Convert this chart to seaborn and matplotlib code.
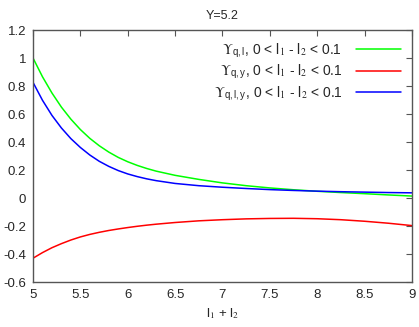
import numpy as np
import pandas as pd
import matplotlib
matplotlib.use("Agg")
import matplotlib.pyplot as plt
import seaborn as sns

x_vals = [5.0, 5.1, 5.2, 5.3, 5.4, 5.5, 5.6, 5.7, 5.8, 5.9, 6.0, 6.1, 6.2, 6.3,
          6.5, 6.75, 7.0, 7.25, 7.5, 7.75, 8.0, 8.25, 8.5, 8.75, 9.0]
ups_ql = [1.000, 0.866, 0.750, 0.649, 0.563, 0.489, 0.426, 0.373, 0.328, 0.290, 0.259,
          0.233, 0.211, 0.192, 0.162, 0.133, 0.108, 0.088, 0.072, 0.059, 0.048,
          0.039, 0.031, 0.022, 0.014]
ups_qy = [-0.430, -0.390, -0.355, -0.326, -0.300, -0.278, -0.260, -0.245, -0.232, -0.221,
          -0.211, -0.202, -0.194, -0.187, -0.175, -0.163, -0.155, -0.149, -0.146, -0.145,
          -0.148, -0.155, -0.166, -0.180, -0.197]
ups_qly = [0.826, 0.698, 0.590, 0.500, 0.424, 0.361, 0.307, 0.262, 0.226, 0.196, 0.172,
           0.153, 0.137, 0.124, 0.104, 0.088, 0.077, 0.068, 0.060, 0.054, 0.049,
           0.045, 0.042, 0.039, 0.037]

labels = [r"$\Upsilon_{\mathregular{q,l}}$, 0 < l$_1$ - l$_2$ < 0.1",
          r"$\Upsilon_{\mathregular{q,y}}$, 0 < l$_1$ - l$_2$ < 0.1",
          r"$\Upsilon_{\mathregular{q,l,y}}$, 0 < l$_1$ - l$_2$ < 0.1"]
colors = ["#00ff00", "#ff0000", "#0000ff"]

df = pd.concat([
    pd.DataFrame({"x": x_vals, "y": ys, "series": lab})
    for ys, lab in zip([ups_ql, ups_qy, ups_qly], labels)
])

sns.set_style("white")
plt.rcParams["font.family"] = ["Liberation Sans", "DejaVu Sans"]
plt.rcParams["mathtext.fontset"] = "stix"

fig = plt.figure(figsize=(4.19, 3.27), dpi=100)
ax = fig.add_axes([0.0788, 0.1376, 0.9042, 0.7706])
sns.lineplot(data=df, x="x", y="y", hue="series", palette=colors, linewidth=1.1, ax=ax)

ax.set_xlim(5, 9)
ax.set_ylim(-0.6, 1.2)
ax.set_xticks(np.arange(5, 9.01, 0.5))
ax.set_xticklabels(["5", "5.5", "6", "6.5", "7", "7.5", "8", "8.5", "9"])
ax.set_yticks(np.arange(-0.6, 1.21, 0.2))
ax.set_yticklabels(["-0.6", "-0.4", "-0.2", "0", "0.2", "0.4", "0.6", "0.8", "1", "1.2"])
ax.tick_params(direction="in", length=4, width=0.8, color="#555555", labelsize=9.5,
               top=True, right=True, pad=5)
for s in ax.spines.values():
    s.set_color("#555555")
    s.set_linewidth(1.0)

ax.set_xlabel("l$_1$ + l$_2$", fontsize=9.5, labelpad=4)
ax.set_ylabel("")
ax.set_title("Y=5.2", fontsize=9, pad=8)

ax.legend(loc="upper right", frameon=False, markerfirst=False, fontsize=10,
          handlelength=3.2, labelspacing=0.2, borderaxespad=0.4, handletextpad=1.0)

fig.savefig("out.png", dpi=100)
